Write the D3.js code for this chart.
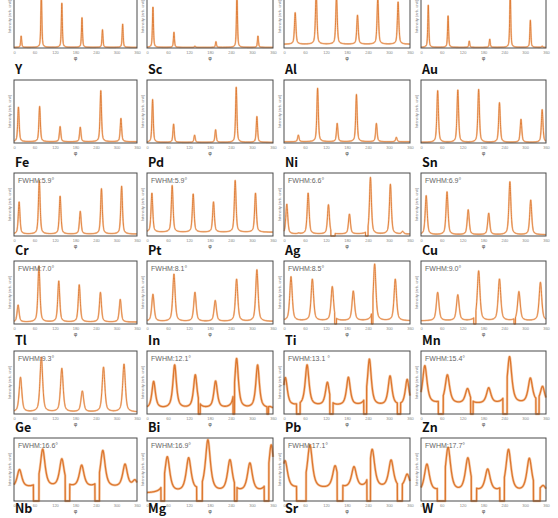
<!DOCTYPE html>
<html><head><meta charset="utf-8">
<script src="https://cdn.jsdelivr.net/npm/d3@7"></script>
<style>html,body{margin:0;padding:0;background:#fff;overflow:hidden}</style>
</head><body>
<svg id="c" width="558" height="518"></svg>
<script>
// ---- data ----
const elements = [null, null, null, null,
  "Y", "Sc", "Al", "Au",
  "Fe", "Pd", "Ni", "Sn",
  "Cr", "Pt", "Ag", "Cu",
  "Tl", "In", "Ti", "Mn",
  "Ge", "Bi", "Pb", "Zn",
  "Nb", "Mg", "Sr", "W"];
const fwhmLabels = [null, null, null, null, null, null, null, null,
  "FWHM:5.9°", "FWHM:5.9°", "FWHM:6.6°", "FWHM:6.9°",
  "FWHM:7.0°", "FWHM:8.1°", "FWHM:8.5°", "FWHM:9.0°",
  "FWHM:9.3°", "FWHM:12.1°", "FWHM:13.1 °", "FWHM:15.4°",
  "FWHM:16.6°", "FWHM:16.9°", "FWHM:17.1°", "FWHM:17.7°"];
const peakWidth = [3.5, 3.5, 5, 3.5, 5, 4.5, 5, 5.5,
  5.9, 5.9, 6.6, 6.9, 7.0, 8.1, 8.5, 9.0, 9.3, 12.1, 13.1, 15.4, 16.6, 16.9, 17.1, 17.7];
const peakPos = [
  [21, 80, 140, 199, 259, 318],
  [17, 77, 137, 197, 257, 317],
  [32, 92, 150, 210, 268, 326],
  [21, 78, 139, 198, 257, 315, 349],
  [13, 75, 135, 194, 254, 313],
  [16, 76, 136, 196, 255, 314],
  [41, 96, 152, 207, 264, 321],
  [48, 106, 166, 226, 288, 349],
  [15, 74, 135, 194, 256, 315],
  [14, 72, 132, 190, 252, 310],
  [8, 42, 69, 127, 187, 247, 304, 339],
  [15, 75, 136, 195, 256, 316],
  [12, 73, 131, 191, 253, 311],
  [17, 77, 137, 195, 256, 314],
  [20, 81, 138, 198, 259, 318],
  [48, 106, 166, 226, 282, 344],
  [19, 80, 140, 200, 262, 322],
  [19, 79, 138, 196, 256, 316, 352],
  [4, 66, 124, 184, 244, 303, 352],
  [11, 76, 134, 195, 255, 315, 350],
  [16, 84, 140, 198, 260, 325, 354],
  [58, 119, 174, 237, 294, 355],
  [3, 74, 146, 200, 252, 306, 352],
  [17, 78, 135, 192, 252, 312, 352]
];
const peakHeight = [
  [0.19, 0.88, 0.71, 0.48, 0.29, 0.38],
  [0.65, 0.25, 0.03, 0.10, 0.88, 0.19],
  [0.56, 0.90, 0.82, 0.52, 0.80, 0.73],
  [0.68, 0.51, 0.11, 0.14, 0.90, 0.44, 0.03],
  [0.57, 0.58, 0.26, 0.25, 0.83, 0.39],
  [0.69, 0.30, 0.125, 0.21, 0.885, 0.42],
  [0.125, 0.87, 0.31, 0.77, 0.31, 0.09],
  [0.83, 0.84, 0.85, 0.64, 0.375, 0.53],
  [0.54, 0.88, 0.63, 0.39, 0.75, 0.79],
  [0.68, 0.80, 0.665, 0.54, 0.88, 0.68],
  [0.505, 0.04, 0.68, 0.495, 0.345, 0.93, 0.82, 0.07],
  [0.64, 0.70, 0.415, 0.36, 0.86, 0.57],
  [0.30, 0.92, 0.68, 0.62, 0.50, 0.39],
  [0.47, 0.79, 0.50, 0.37, 0.71, 0.86],
  [0.75, 0.71, 0.59, 0.52, 0.95, 0.71],
  [0.50, 0.46, 0.84, 0.71, 0.51, 0.66],
  [0.58, 0.90, 0.72, 0.36, 0.74, 0.79],
  [0.51, 0.77, 0.61, 0.51, 0.87, 0.77, 0.10],
  [0.57, 0.77, 0.49, 0.57, 0.86, 0.59, 0.54],
  [0.76, 0.61, 0.39, 0.40, 0.90, 0.55, 0.42],
  [0.49, 0.81, 0.65, 0.55, 0.79, 0.57, 0.31],
  [0.69, 0.66, 0.95, 0.63, 0.58, 0.88],
  [0.63, 0.88, 0.54, 0.52, 0.80, 0.63, 0.41],
  [0.57, 0.83, 0.66, 0.48, 0.80, 0.66, 0.22]
];
const background = [0.01, 0.01, 0.06, 0.01, 0.02, 0.01, 0.02, 0.01,
  0.03, 0.06, 0.03, 0.02, 0.03, 0.04, 0.05, 0.05,
  0.03, 0.08, 0.12, 0.15, 0.20, 0.12, 0.18, 0.12];
const gaps = [[], [], [], [], [], [], [], [],
  [], [], [[134, 146], [233, 240]], [],
  [], [], [[145, 150], [250, 254]], [[152, 158], [268, 272]],
  [], [[147, 152], [246, 250], [343, 347]], [[36, 46], [131, 140], [228, 236], [324, 333]], [[50, 64], [143, 150], [236, 248], [331, 340]],
  [[57, 73], [150, 163], [237, 250]], [[40, 50], [142, 158], [250, 257], [335, 348]], [[36, 63], [152, 168], [237, 247], [324, 338]], [[47, 70], [145, 160], [227, 240], [324, 343]]];
const xTicks = [0, 60, 120, 180, 240, 300, 360];
const yLabel = "Intensity (arb. unit)";
const xLabel = "φ";

// ---- layout ----
const colLeft = [14, 147, 284, 421];
const colRight = [137, 273, 410, 546];
const rowTop = [-15, 80, 173, 261, 351, 438, 526];
const panelH = 63;

const svg = d3.select("#c");
const lineColor = "#dc772f";

function profile(i) {
  const pos = peakPos[i], hts = peakHeight[i], w = peakWidth[i], bg = background[i];
  const eta = w > 11 ? 0.8 : 0.6;
  const pts = [];
  for (let phi = 0; phi <= 360; phi += 0.25) {
    let v = bg;
    pos.forEach((p, k) => {
      const d = (phi - p) / w;
      v += (hts[k] - bg) * (eta / (1 + 4 * d * d) + (1 - eta) * Math.exp(-4 * Math.LN2 * d * d));
    });
    if (gaps[i].some(g => phi >= g[0] && phi <= g[1])) v = 0;
    pts.push([phi, Math.min(v, 0.99)]);
  }
  return pts;
}

elements.forEach((name, i) => {
  const row = Math.floor(i / 4), col = i % 4;
  const left = colLeft[col], right = colRight[col];
  const top = rowTop[row], bottom = top + panelH;
  const g = svg.append("g");

  if (name) {
    g.append("text").attr("x", left + 1).attr("y", Math.min(top - 6, 513))
      .attr("font-family", "'Noto Sans CJK JP', 'Noto Sans', sans-serif")
      .attr("font-weight", 700).attr("font-size", 12.5).attr("fill", "#111").text(name);
  }
  if (i >= peakPos.length) return;

  const x = d3.scaleLinear().domain([0, 360]).range([left, right]);
  const y = d3.scaleLinear().domain([0, 1]).range([bottom, top]);

  const data = profile(i);
  const line = d3.line().x(d => x(d[0])).y(d => y(d[1]));
  const broad = peakWidth[i] > 11;
  g.append("path").datum(data).attr("d", line).attr("fill", "none")
    .attr("stroke", "#f0a56b").attr("stroke-opacity", 0.55)
    .attr("stroke-width", broad ? 2.6 : 1.8).attr("stroke-linejoin", "round");
  g.append("path").datum(data).attr("d", line).attr("fill", "none")
    .attr("stroke", lineColor).attr("stroke-width", broad ? 1.3 : 0.9).attr("stroke-linejoin", "round");

  g.append("rect").attr("x", left).attr("y", top).attr("width", right - left).attr("height", panelH)
    .attr("fill", "none").attr("stroke", "#4a4a4a").attr("stroke-width", 1);

  const ax = g.append("g").attr("transform", `translate(0,${bottom})`)
    .call(d3.axisBottom(x).tickValues(xTicks).tickSize(0).tickPadding(3));
  ax.select(".domain").remove();
  ax.selectAll("text").attr("font-size", 4).attr("fill", "#888")
    .attr("font-family", "'Liberation Sans', Arial, sans-serif");

  g.append("text").attr("x", (left + right) / 2).attr("y", bottom + 12)
    .attr("text-anchor", "middle").attr("font-size", 5.5).attr("fill", "#555")
    .attr("font-family", "'DejaVu Sans', sans-serif").text(xLabel);

  g.append("text").attr("transform", `translate(${left - 3.5},${top + panelH / 2}) rotate(-90)`)
    .attr("text-anchor", "middle").attr("font-size", 4).attr("fill", "#777")
    .attr("font-family", "'Liberation Sans', Arial, sans-serif").text(yLabel);

  if (fwhmLabels[i]) {
    g.append("text").attr("x", left + 4).attr("y", top + 10)
      .attr("font-size", 7).attr("fill", "#666")
      .attr("font-family", "'Liberation Sans', Arial, sans-serif").text(fwhmLabels[i]);
  }
});
</script>
</body></html>
